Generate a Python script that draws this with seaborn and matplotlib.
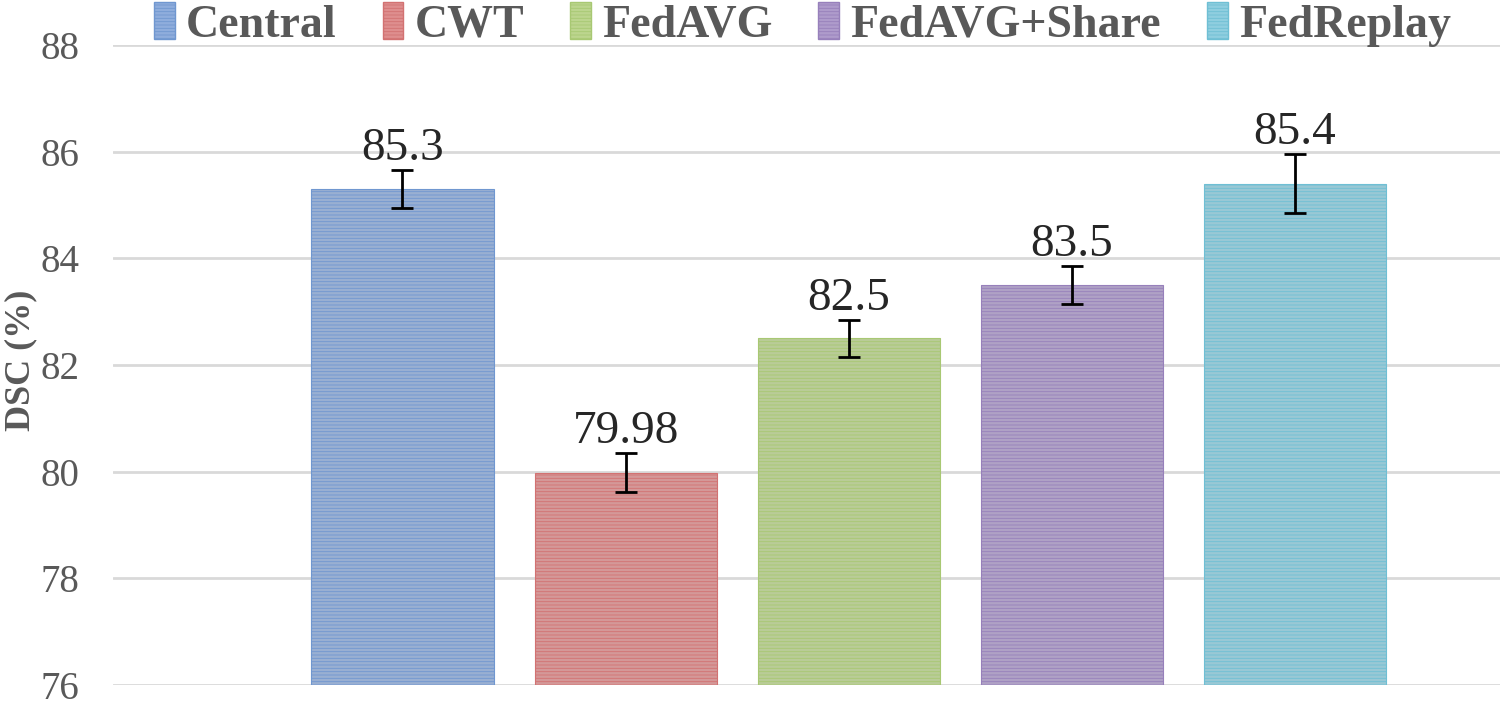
import matplotlib
matplotlib.use("Agg")
import matplotlib.pyplot as plt
from matplotlib.patches import Patch
import seaborn as sns
import pandas as pd

# Data
methods = ["Central", "CWT", "FedAVG", "FedAVG+Share", "FedReplay"]
dsc = [85.3, 79.98, 82.5, 83.5, 85.4]
err = [0.35, 0.37, 0.35, 0.35, 0.55]
labels = ["85.3", "79.98", "82.5", "83.5", "85.4"]
colors = ["#8FADDC", "#DE8E8E", "#BCD58E", "#AE9BCB", "#8FCEDF"]
edges = ["#7097D0", "#D27272", "#A8C873", "#9780BB", "#6FBFD4"]

df = pd.DataFrame({"Method": methods, "DSC": dsc})

sns.set_style("white")
plt.rcParams["font.family"] = ["Liberation Serif", "DejaVu Serif"]
plt.rcParams["hatch.linewidth"] = 0.6

fig = plt.figure(figsize=(15, 7.06), dpi=100)
ax = fig.add_axes([0.075, 0.03, 0.925, 0.906])

sns.barplot(
    data=df, x="Method", y="DSC", hue="Method",
    palette=colors, width=0.816, ax=ax, legend=False,
    bottom=0,
)

# Bars: horizontal stripe texture and slightly darker edges
for patch, ec in zip(ax.patches, edges):
    patch.set_edgecolor(ec)
    patch.set_linewidth(0.8)
    patch.set_hatch("-----")

ax.errorbar(
    range(len(methods)), dsc, yerr=err, fmt="none",
    ecolor="black", elinewidth=2, capsize=8, capthick=2, zorder=5,
)

for i, (v, e, t) in enumerate(zip(dsc, err, labels)):
    ax.text(i, v + e, t, ha="center", va="bottom",
            fontsize=34, color="#262626")

ax.set_ylim(76, 88)
ax.set_xlim(-1.30, 4.92)
ax.set_yticks(range(76, 89, 2))
ax.tick_params(axis="y", labelsize=28, labelcolor="#595959", length=0, pad=24)
ax.set_xticks([])
ax.set_xlabel("")
ax.set_ylabel("DSC (%)", fontsize=26, fontweight="bold", color="#595959")
ax.yaxis.set_label_coords(-0.054, 0.508)
ax.yaxis.grid(True, color="#D9D9D9", linewidth=2)
ax.set_axisbelow(True)
for s in ["top", "right", "left", "bottom"]:
    ax.spines[s].set_visible(False)

# Legend across the top
handles = [Patch(facecolor=c, edgecolor=ec, hatch="-----", label=m)
           for m, c, ec in zip(methods, colors, edges)]
fig.legend(
    handles=handles, loc="upper center", bbox_to_anchor=(0.535, 1.055),
    ncol=5, frameon=False, handlelength=0.45, handleheight=0.85,
    handletextpad=0.25, columnspacing=1.0,
    prop={"size": 33, "weight": "bold"}, labelcolor="#595959",
)

fig.savefig("out.png", dpi=100)
